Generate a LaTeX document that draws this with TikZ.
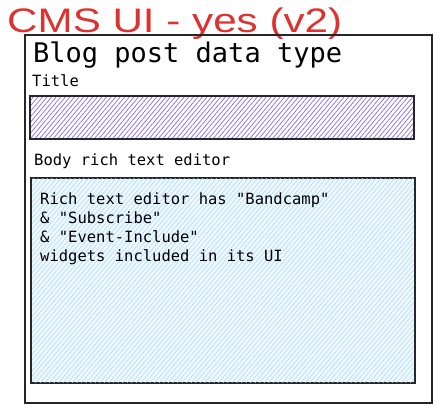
\documentclass[tikz,border=0pt]{standalone}
\usepackage{fontspec}
\setmonofont{DejaVu Sans Mono}
\newfontfamily\handfont{Liberation Sans}
\usetikzlibrary{patterns.meta,positioning}

\definecolor{inkred}{RGB}{224,49,49}
\definecolor{hatchviolet}{RGB}{140,110,240}
\definecolor{hatchblue}{RGB}{165,216,255}
\definecolor{paleblue}{RGB}{240,248,255}

\begin{document}
\begin{tikzpicture}[x=1pt,y=-1pt,
    frame/.style={draw=black!85,line width=1.3pt,inner sep=0pt},
    label/.style={anchor=base west,inner sep=0pt,font=\ttfamily\fontsize{15.5}{18}\selectfont}]
    \useasboundingbox (0,0) rectangle (437,409);

    \node[inkred,anchor=base west,inner sep=0pt,font=\handfont\fontsize{34}{40}\selectfont] (heading) at (7,33) {\scalebox{1.24}[1]{CMS UI - yes (v2)}};

    \node[frame,minimum width=407pt,minimum height=368pt] (card) at (228.5,219) {};

    \node[anchor=base west,inner sep=0pt,font=\ttfamily\fontsize{27}{30}\selectfont] (typename) at (33,63) {Blog post data type};

    \node[label] (titlelbl) at (32,87) {Title};
    \node[frame,minimum width=384pt,minimum height=43pt,
          pattern={Lines[angle=50,distance=3.5pt,line width=0.75pt]},pattern color=hatchviolet] (titlebox) at (222,117.5) {};

    \node[label] (bodylbl) at (34,166) {Body rich text editor};
    \node[frame,minimum width=384pt,minimum height=205pt,fill=paleblue] (bodybox) at (223,280.5) {};
    \node[minimum width=382pt,minimum height=203pt,inner sep=0pt,
          pattern={Lines[angle=50,distance=3.5pt,line width=0.5pt]},pattern color=hatchblue] (bodyhatch) at (bodybox.center) {};

    \node[label,align=left,anchor=north west,font=\ttfamily\fontsize{15.5}{18.7}\selectfont] (bodytext) at (40,193)
        {Rich text editor has "Bandcamp"\\
         \& "Subscribe"\\
         \& "Event-Include"\\
         widgets included in its UI};
\end{tikzpicture}
\end{document}
